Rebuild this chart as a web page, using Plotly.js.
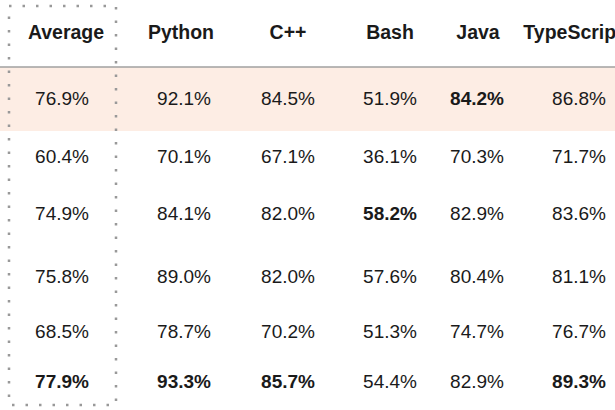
<!DOCTYPE html>
<html>
<head>
<meta charset="utf-8">
<script src="https://cdn.plot.ly/plotly-3.0.1.min.js"></script>
<style>html,body{margin:0;padding:0;background:#fff;}#chart{width:615px;height:410px;}</style>
</head>
<body>
<div id="chart"></div>
<script>
// ---- data ----
const columns = ["Average", "Python", "C++", "Bash", "Java", "TypeScript"];
const average    = [76.9, 60.4, 74.9, 75.8, 68.5, 77.9];
const python     = [92.1, 70.1, 84.1, 89.0, 78.7, 93.3];
const cpp        = [84.5, 67.1, 82.0, 82.0, 70.2, 85.7];
const bash       = [51.9, 36.1, 58.2, 57.6, 51.3, 54.4];
const java       = [84.2, 70.3, 82.9, 80.4, 74.7, 82.9];
const typescript = [86.8, 71.7, 83.6, 81.1, 76.7, 89.3];
const series = [average, python, cpp, bash, java, typescript];

// ---- layout (pixel-space positions) ----
const headerX = [66, 181, 288, 390, 478, 573];
const cellX   = [62, 184, 288, 390, 477, 579];
const headerY = 34;
const rowY    = [100, 158, 215, 278, 333, 383];

const hx = [], hy = [], ht = [];
columns.forEach((c, i) => { hx.push(headerX[i]); hy.push(headerY); ht.push('<b>' + c + '</b>'); });

const vx = [], vy = [], vt = [];
series.forEach((vals, ci) => {
  const mx = Math.max(...vals);
  vals.forEach((v, ri) => {
    vx.push(cellX[ci]); vy.push(rowY[ri]);
    const s = v.toFixed(1) + '%';
    vt.push(v === mx ? '<b>' + s + '</b>' : s);
  });
});

const hfont = {family: 'Liberation Sans, Arial, sans-serif', size: 19.5, color: '#1a1a1a'};
const vfont = {family: 'Liberation Sans, Arial, sans-serif', size: 19, color: '#1a1a1a'};
const traces = [
  {type: 'scatter', mode: 'text', x: hx, y: hy, text: ht, textposition: 'middle center',
   textfont: hfont, hoverinfo: 'skip', showlegend: false, cliponaxis: true},
  {type: 'scatter', mode: 'text', x: vx, y: vy, text: vt, textposition: 'middle center',
   textfont: vfont, hoverinfo: 'skip', showlegend: false, cliponaxis: true}
];

const layout = {
  width: 615, height: 410,
  margin: {l: 0, r: 0, t: 0, b: 0},
  paper_bgcolor: '#fff', plot_bgcolor: '#fff',
  xaxis: {range: [0, 615], visible: false, fixedrange: true},
  yaxis: {range: [410, 0], visible: false, fixedrange: true},
  shapes: [
    {type: 'rect', xref: 'paper', yref: 'y', x0: 0, x1: 1, y0: 67, y1: 131,
     fillcolor: '#fdede4', line: {width: 0}, layer: 'below'},
    {type: 'line', xref: 'paper', yref: 'y', x0: 0, x1: 1, y0: 67, y1: 67,
     line: {color: '#a0a0a0', width: 1.5}},
    {type: 'rect', xref: 'x', yref: 'y', x0: 9, x1: 116, y0: 6, y1: 405,
     fillcolor: 'rgba(0,0,0,0)', line: {color: '#999999', width: 2.5, dash: '2.5px,11px'}}
  ]
};

Plotly.newPlot('chart', traces, layout, {displayModeBar: false, staticPlot: true});
</script>
</body>
</html>
